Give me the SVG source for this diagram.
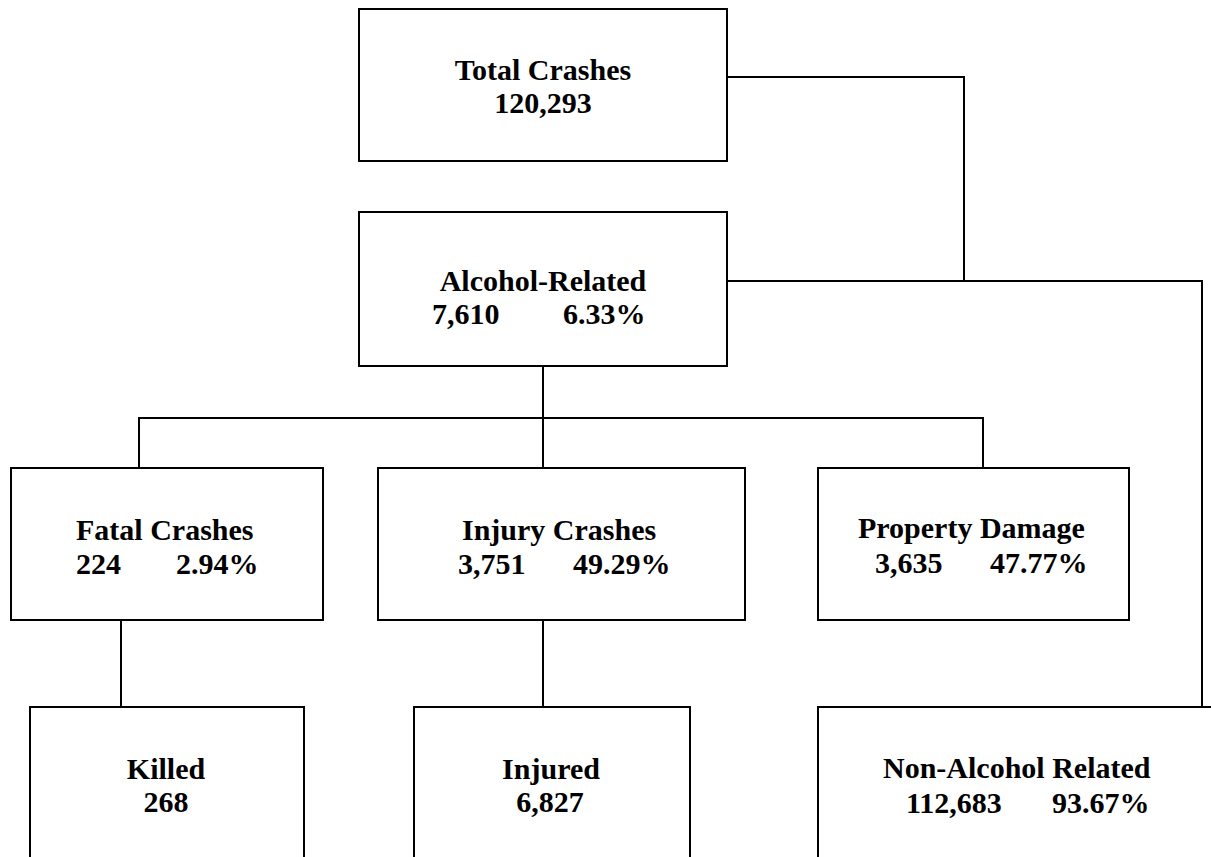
<svg xmlns="http://www.w3.org/2000/svg" width="1211" height="857" viewBox="0 0 1211 857">
<style>
.box{fill:#fff;stroke:#000;stroke-width:2}
.conn{fill:none;stroke:#000;stroke-width:2}
text{font-family:"Liberation Serif","Times New Roman",serif;font-weight:bold;font-size:30px;fill:#000}
.m{text-anchor:middle}
</style>
<rect width="1211" height="857" fill="#fff"/>
<g id="connectors">
<polyline class="conn" points="727,77 964,77 964,281"/>
<polyline class="conn" points="727,281 1202,281 1202,707"/>
<line class="conn" x1="543" y1="366" x2="543" y2="468"/>
<polyline class="conn" points="139,468 139,418 983,418 983,468"/>
<line class="conn" x1="121" y1="620" x2="121" y2="707"/>
<line class="conn" x1="543" y1="620" x2="543" y2="707"/>
</g>
<g id="total">
<rect class="box" x="359" y="9" width="368" height="152"/>
<text class="m" x="543" y="80">Total Crashes</text>
<text class="m" x="543" y="113">120,293</text>
</g>
<g id="alcohol">
<rect class="box" x="359" y="212" width="368" height="154"/>
<text class="m" x="543" y="291">Alcohol-Related</text>
<text y="324"><tspan x="432">7,610</tspan><tspan x="563">6.33%</tspan></text>
</g>
<g id="fatal">
<rect class="box" x="11" y="468" width="312" height="152"/>
<text x="76" y="540">Fatal Crashes</text>
<text y="574"><tspan x="76">224</tspan><tspan x="176">2.94%</tspan></text>
</g>
<g id="injury">
<rect class="box" x="378" y="468" width="367" height="152"/>
<text x="462" y="540">Injury Crashes</text>
<text y="574"><tspan x="458">3,751</tspan><tspan x="573">49.29%</tspan></text>
</g>
<g id="property">
<rect class="box" x="818" y="468" width="311" height="152"/>
<text x="858" y="538">Property Damage</text>
<text y="573"><tspan x="875">3,635</tspan><tspan x="990">47.77%</tspan></text>
</g>
<g id="killed">
<rect class="box" x="30" y="707" width="274" height="170"/>
<text class="m" x="166" y="779">Killed</text>
<text class="m" x="166" y="812">268</text>
</g>
<g id="injured">
<rect class="box" x="414" y="707" width="276" height="170"/>
<text class="m" x="551" y="779">Injured</text>
<text class="m" x="550" y="812">6,827</text>
</g>
<g id="nonalcohol">
<rect class="box" x="818" y="707" width="420" height="170"/>
<text x="883" y="778">Non-Alcohol Related</text>
<text y="813"><tspan x="906">112,683</tspan><tspan x="1052">93.67%</tspan></text>
</g>
</svg>
